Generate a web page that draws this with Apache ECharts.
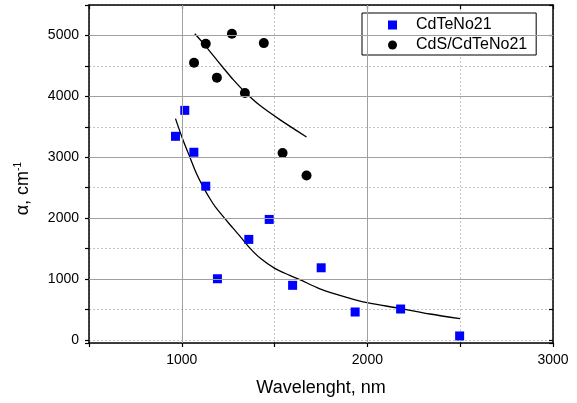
<!DOCTYPE html>
<html><head><meta charset="utf-8">
<script src="https://cdn.jsdelivr.net/npm/echarts@6/dist/echarts.min.js"></script>
<style>html,body{margin:0;padding:0;background:#fff}#c{width:577px;height:403px}</style>
</head><body><div id="c"></div>
<script>
var cdteX = [966,1016,1065,1129,1192,1361,1471,1597,1751,1934,2179,2497];
var cdteY = [3344,3770,3082,2525,1005,1651,1979,897,1185,459,508,66];
var cdsX = [1066,1129,1189,1270,1340,1442,1543,1672];
var cdsY = [4552,4864,4307,5028,4054,4874,3070,2700];
var cdteFitX = [966,1007,1043,1079,1115,1151,1187,1277,1313,1367,1420,1501,1582,1636,1744,1888,1999,2175,2337,2499];
var cdteFitY = [3634,3279,3005,2733,2513,2323,2159,1831,1705,1508,1350,1175,1060,990,840,700,612,519,426,349];
var cdsFitX = [1070,1115,1169,1223,1277,1340,1420,1528,1672];
var cdsFitY = [5028,4874,4672,4470,4274,4071,3852,3618,3333];
var xMajor = [1000,2000];
var yMajor = [1000,2000,3000,4000,5000];
var names = ['CdTeNo21','CdS/CdTeNo21'];

function zip(a,b){return a.map(function(v,i){return [v,b[i]];});}
var font = '"Liberation Sans", Arial, sans-serif';
var chart = echarts.init(document.getElementById('c'));
var gridMarks = xMajor.map(function(v){return {xAxis:v};}).concat(yMajor.map(function(v){return {yAxis:v};}));
var dotted = {show:true, lineStyle:{color:'#c4c4c4', type:[2,2], width:1}};
var axLine = {show:true, onZero:false, lineStyle:{color:'#000', width:1.5}};
chart.setOption({
  animation:false,
  grid:{left:89, top:5, right:24, bottom:60},
  legend:{
    left:362, top:13, orient:'vertical',
    backgroundColor:'#fff', borderColor:'#000', borderWidth:1,
    padding:[4,9,2,26], itemGap:4, itemWidth:9, itemHeight:9,
    textStyle:{fontFamily:font, fontSize:16, color:'#000', lineHeight:16, padding:[0,0,0,14]},
    data:[{name:names[0], icon:'rect'},{name:names[1], icon:'circle'}]
  },
  xAxis:[{
    type:'value', min:500, max:3000, interval:500, position:'bottom',
    axisLine:axLine,
    axisTick:{inside:false, length:4, lineStyle:{color:'#000', width:1.2}},
    axisLabel:{margin:10, fontFamily:font, fontSize:14, color:'#000',
      formatter:function(v){return v%1000===0 ? String(v) : '';}},
    splitLine:dotted,
    name:'Wavelenght, nm', nameLocation:'middle', nameGap:36,
    nameTextStyle:{fontFamily:font, fontSize:18, color:'#000'}
  },{
    type:'value', min:500, max:3000, interval:500, position:'top',
    axisLine:axLine,
    axisTick:{inside:true, length:4, lineStyle:{color:'#000', width:1.2}},
    axisLabel:{show:false}, splitLine:{show:false}
  }],
  yAxis:[{
    type:'value', min:-50, max:5500, splitNumber:11, position:'left',
    axisLine:axLine,
    axisTick:{show:true, inside:false, length:4, lineStyle:{color:'#000', width:1.2}},
    axisLabel:{margin:10, fontFamily:font, fontSize:14, color:'#000',
      formatter:function(v){return (v>=0 && v%1000===0) ? String(v) : '';}},
    splitLine:dotted
  },{
    type:'value', min:-50, max:5500, splitNumber:11, position:'right',
    axisLine:axLine,
    axisTick:{show:true, inside:true, length:4, lineStyle:{color:'#000', width:1.2}},
    axisLabel:{show:false}, splitLine:{show:false}
  }],
  graphic:[{
    type:'text', left:13, top:162, rotation:Math.PI/2,
    style:{text:'{a|α, cm}{s|-1}', fill:'#000',
      rich:{a:{fontFamily:font, fontSize:18, fill:'#000'}, s:{fontFamily:font, fontSize:10, fill:'#000', verticalAlign:'top', padding:[0,0,10,0]}}}
  }],
  series:[{
    type:'line', data:[], silent:true, z:1, xAxisIndex:0, yAxisIndex:0,
    markLine:{silent:true, symbol:'none', animation:false, label:{show:false},
      lineStyle:{color:'#a0a0a0', type:'solid', width:1}, data:gridMarks}
  },{
    name:names[0], type:'scatter', symbol:'rect', symbolSize:9, z:4,
    itemStyle:{color:'#0000ff', opacity:1}, data:zip(cdteX,cdteY)
  },{
    name:names[1], type:'scatter', symbol:'circle', symbolSize:10, z:4,
    itemStyle:{color:'#000', opacity:1}, data:zip(cdsX,cdsY)
  },{
    type:'line', data:zip(cdteFitX,cdteFitY), smooth:0.3, showSymbol:false, symbol:'none', z:3,
    lineStyle:{color:'#000', width:1.3}
  },{
    type:'line', data:zip(cdsFitX,cdsFitY), smooth:0.3, showSymbol:false, symbol:'none', z:3,
    lineStyle:{color:'#000', width:1.3}
  }]
});
</script></body></html>
